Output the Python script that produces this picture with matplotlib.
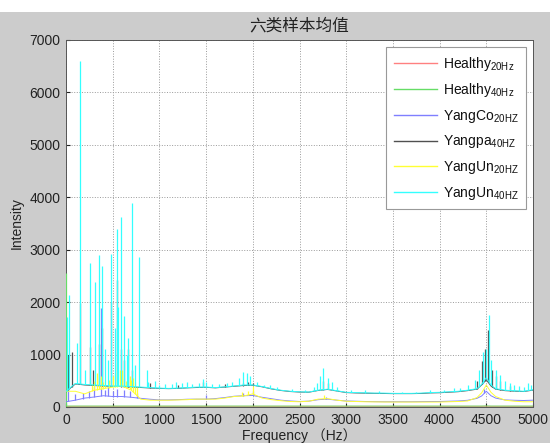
import numpy as np
import matplotlib
matplotlib.use("Agg")
import matplotlib.pyplot as plt
from matplotlib.patches import Rectangle

plt.rcParams['font.family'] = ['Liberation Sans', 'Noto Sans CJK SC', 'DejaVu Sans']
plt.rcParams['mathtext.fontset'] = 'custom'
plt.rcParams['mathtext.rm'] = 'Liberation Sans'

# ---- frequency knots (Hz) shared by all mean spectra ----
freq = [0, 100, 200, 300, 400, 500, 600, 700, 800, 900,
        1000, 1100, 1200, 1300, 1400, 1500, 1600, 1700, 1800, 1900,
        2000, 2100, 2200, 2300, 2400, 2500, 2600, 2700, 2800, 2900,
        3000, 3100, 3200, 3300, 3400, 3500, 3600, 3700, 3800, 3900,
        4000, 4100, 4200, 4300, 4400, 4450, 4500, 4550, 4600, 4700,
        4800, 4900, 5000]

healthy_20 = [10, 12, 12, 12, 12, 12, 12, 12, 12, 12,
              12, 12, 12, 12, 12, 12, 12, 12, 12, 12,
              12, 12, 12, 12, 12, 12, 12, 12, 12, 12,
              12, 12, 12, 12, 12, 12, 12, 12, 12, 12,
              12, 12, 12, 12, 12, 12, 14, 12, 12, 12,
              12, 12, 12]
healthy_40 = [18, 18, 18, 18, 18, 18, 18, 18, 18, 18,
              18, 18, 18, 18, 18, 18, 18, 18, 18, 18,
              18, 18, 18, 18, 18, 18, 18, 18, 18, 18,
              18, 18, 18, 18, 18, 18, 18, 18, 18, 18,
              18, 18, 18, 18, 18, 18, 20, 18, 18, 18,
              18, 18, 18]
yangco_20 = [100, 130, 170, 190, 215, 200, 200, 185, 165, 148,
             135, 135, 140, 148, 150, 150, 160, 180, 205, 215,
             220, 185, 158, 130, 115, 105, 112, 140, 150, 130,
             115, 110, 105, 102, 100, 100, 100, 100, 102, 104,
             105, 110, 115, 128, 165, 210, 300, 215, 170, 135,
             128, 124, 130]
yangpa_40 = [290, 440, 420, 410, 400, 395, 390, 380, 372, 362,
             355, 350, 355, 365, 372, 375, 365, 380, 395, 410,
             415, 385, 345, 315, 295, 285, 282, 315, 335, 305,
             275, 268, 264, 260, 258, 255, 255, 255, 258, 268,
             272, 282, 292, 312, 340, 420, 520, 400, 340, 312,
             302, 295, 322]
yangun_20 = [300, 300, 250, 320, 350, 380, 400, 320, 150, 130,
             130, 130, 135, 140, 150, 150, 150, 170, 200, 210,
             250, 170, 140, 120, 105, 100, 110, 150, 160, 130,
             110, 105, 100, 98, 96, 95, 95, 95, 95, 95,
             95, 100, 105, 115, 180, 270, 420, 280, 200, 130,
             110, 100, 100]
yangun_40 = [300, 450, 430, 420, 410, 400, 400, 390, 380, 370,
             360, 355, 360, 370, 380, 380, 370, 385, 400, 420,
             420, 390, 350, 320, 300, 290, 285, 320, 340, 310,
             280, 275, 270, 265, 265, 260, 260, 260, 265, 275,
             280, 290, 300, 320, 350, 430, 560, 420, 350, 320,
             310, 300, 330]

# ---- narrow peaks (frequency, peak intensity) ----
healthy_40_peak_f = [3]
healthy_40_peak_v = [2550]
yangun_40_peak_f = [7, 32, 121, 150, 200, 257, 310, 353, 389, 420, 450,
                    478, 520, 543, 560, 589, 625, 650, 667, 707, 740, 785,
                    864, 880, 950, 1000, 1060, 1130, 1180, 1240, 1300, 1350,
                    1420, 1470, 1500, 1560, 1640, 1720, 1780, 1850, 1892,
                    1935, 1970, 2050, 2120, 2180, 2260, 2420, 2560, 2650,
                    2690, 2720, 2750, 2800, 2850, 2900, 3050, 3200, 3350,
                    3600, 3750, 3900, 4050, 4150, 4220, 4300, 4380, 4420,
                    4460, 4500, 4530, 4550, 4600, 4647, 4700, 4750, 4800,
                    4850, 4900, 4950, 4980]
yangun_40_peak_v = [1720, 2140, 1220, 6600, 700, 2750, 2390, 2890, 2680,
                    1100, 900, 2920, 1500, 3390, 1900, 3620, 1740, 1000,
                    1310, 3890, 800, 2860, 710, 480, 500, 420, 440, 430,
                    470, 450, 480, 440, 450, 530, 470, 440, 430, 450, 480,
                    560, 675, 640, 600, 470, 420, 420, 380, 340, 330, 380,
                    450, 600, 740, 550, 480, 380, 320, 320, 300, 290, 295,
                    330, 330, 360, 360, 420, 515, 700, 1055, 1100, 1755,
                    900, 700, 610, 500, 450, 420, 400, 380, 450, 420]
yangpa_40_peak_f = [25, 60, 150, 257, 290, 353, 389, 478, 543, 589, 625,
                    667, 707, 900, 1200, 1470, 1700, 1892, 1950, 2000, 2750,
                    2800, 4400, 4455, 4490, 4520, 4560, 4600, 4650, 4750]
yangpa_40_peak_v = [1000, 1050, 1985, 1150, 700, 1200, 1500, 2000, 2420,
                    1100, 900, 1100, 700, 450, 420, 480, 430, 450, 480, 450,
                    500, 450, 500, 870, 1100, 1470, 700, 600, 500, 400]
yangco_20_peak_f = [25, 100, 180, 250, 300, 375, 420, 450, 500, 550, 620,
                    680, 760, 1500, 1900, 2000, 2780, 4480]
yangco_20_peak_v = [935, 250, 260, 300, 400, 1890, 330, 380, 300, 350, 320,
                    300, 260, 220, 260, 300, 190, 350]
yangun_20_peak_f = [280, 300, 330, 350, 370, 400, 420, 460, 500, 520, 545,
                    575, 600, 620, 640, 680, 700, 720, 740, 760, 1880, 1950,
                    2000, 2760]
yangun_20_peak_v = [420, 500, 650, 560, 600, 480, 520, 520, 600, 650, 820,
                    700, 700, 560, 500, 600, 520, 550, 480, 380, 280, 300,
                    400, 220]

labels = [r'Healthy$_\mathregular{20Hz}$', r'Healthy$_\mathregular{40Hz}$',
          r'YangCo$_\mathregular{20HZ}$', r'Yangpa$_\mathregular{40HZ}$',
          r'YangUn$_\mathregular{20HZ}$', r'YangUn$_\mathregular{40HZ}$']

colors = ['#ff8080', '#66dd66', '#7f7fff', '#505050', '#ffff33', '#33ffff']

series = [
    (healthy_20, None, None),
    (healthy_40, healthy_40_peak_f, healthy_40_peak_v),
    (yangco_20, yangco_20_peak_f, yangco_20_peak_v),
    (yangpa_40, yangpa_40_peak_f, yangpa_40_peak_v),
    (yangun_20, yangun_20_peak_f, yangun_20_peak_v),
    (yangun_40, yangun_40_peak_f, yangun_40_peak_v),
]

fig = plt.figure(figsize=(5.5, 4.43), dpi=100, facecolor='#cccccc')
fig.patches.append(Rectangle((0, 1 - 12 / 443), 1, 12 / 443, transform=fig.transFigure,
                             facecolor='white', edgecolor='none', zorder=-1))
ax = fig.add_axes([66 / 550, 36 / 443, 467 / 550, 367 / 443])
ax.set_facecolor('white')

handles = []
for i, ((vals, pf, pv), col, lab) in enumerate(zip(series, colors, labels)):
    line, = ax.plot(freq, vals, color=col, lw=0.7, label=lab, zorder=2 + i)
    handles.append(line)
    if pf is not None:
        base = np.interp(pf, freq, vals)
        ax.vlines(pf, base, pv, colors=col, lw=0.9, zorder=2 + i)

ax.set_xlim(0, 5000)
ax.set_ylim(0, 7000)
ax.set_xticks(np.arange(0, 5001, 500))
ax.set_yticks(np.arange(0, 7001, 1000))
ax.tick_params(direction='in', length=3, labelsize=10, colors='#222222', pad=4)
ax.grid(True, linestyle=':', color='#9a9a9a', lw=0.7)
ax.set_axisbelow(True)
for s in ax.spines.values():
    s.set_color('#555555')
    s.set_linewidth(0.7)

ax.set_title('六类样本均值', fontsize=12, family=['Noto Sans CJK SC'],
             color='#222222', pad=7)
ax.set_xlabel('Frequency （Hz）', fontsize=10, color='#222222', labelpad=1)
ax.set_ylabel('Intensity', fontsize=10, color='#222222', labelpad=4)

leg = ax.legend(handles=handles, labels=labels, loc='upper right',
                bbox_to_anchor=(0.985, 0.981), borderaxespad=0,
                fontsize=10, fancybox=False, framealpha=1, edgecolor='#999999',
                handlelength=3.1, handletextpad=0.4, labelspacing=0.62,
                borderpad=0.55)
leg.set_zorder(20)
leg.get_frame().set_linewidth(0.8)
for h, col in zip(leg.legend_handles, colors):
    h.set_color(col)
    h.set_linewidth(1.0)
for t in leg.get_texts():
    t.set_color('#111111')

fig.savefig('out.png', dpi=100, facecolor=fig.get_facecolor())
